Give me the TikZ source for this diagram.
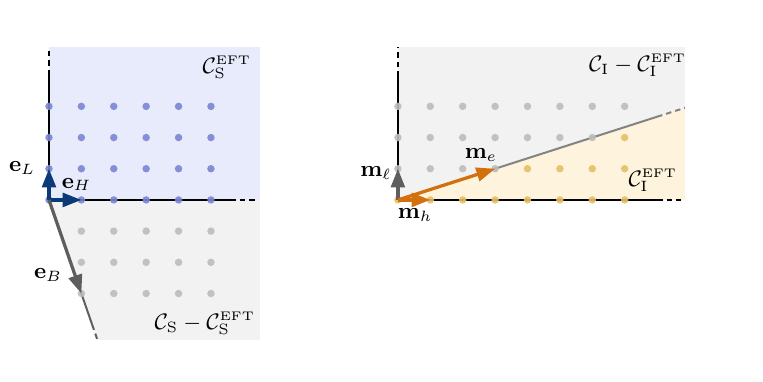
\documentclass[tikz,border=0pt]{standalone}
\usepackage{amsmath}
\usetikzlibrary{arrows.meta}
\definecolor{lavender}{HTML}{E7EBFC}
\definecolor{lavdot}{HTML}{7A86D2}
\definecolor{paper}{HTML}{F2F2F2}
\definecolor{greydot}{HTML}{BCBCBC}
\definecolor{cream}{HTML}{FEF3DC}
\definecolor{golddot}{HTML}{E6BE66}
\definecolor{navy}{HTML}{0B3A78}
\definecolor{slate}{HTML}{5E5E5E}
\definecolor{fence}{HTML}{838383}
\definecolor{amber}{HTML}{D2700F}
\tikzset{
  axisline/.style={line width=0.8pt, color=black},
  axisdash/.style={axisline, dash pattern=on 2.2pt off 1.6pt},
  coneline/.style={line width=0.8pt, color=#1},
  coneline/.default=fence,
  conedash/.style={coneline=#1, dash pattern=on 2.2pt off 1.6pt},
  conedash/.default=fence,
  vecarrow/.style={-{Triangle[length=7.5pt,width=5.5pt]}, line width=1.3pt, color=#1},
  vecarrow/.default=navy,
  latdot/.style={fill=#1, opacity=0.9},
  latdot/.default=lavdot,
  veclabel/.style={inner sep=1pt, font=\small},
  regionlabel/.style={inner sep=1pt, font=\small},
}
\newcommand{\dotrad}{1.5pt}
\begin{document}
\begin{tikzpicture}[x=0.457cm, y=0.44cm]
  \useasboundingbox (-1.512,-5.833) rectangle (22.04,6.41);
  \coordinate (O) at (0,0);
  \coordinate (eL) at (0,1);
  \coordinate (eH) at (1,0);
  \coordinate (eB) at (1,-3);
  \fill[lavender] (O) rectangle (6.51,4.9);
  \fill[paper] (O) -- (6.51,0) -- (6.51,-4.49) -- (1.497,-4.49) -- cycle;
  \draw[axisline] (O) -- (0,4.0);
  \draw[axisdash] (0,4.0) -- (0,4.9);
  \draw[axisline] (O) -- (5.6,0);
  \draw[axisdash] (5.6,0) -- (6.45,0);
  \draw[coneline=slate] (O) -- (1.333,-4);
  \draw[conedash=slate] (1.333,-4) -- (1.497,-4.49);
  \foreach \i in {0,...,5}
    \foreach \j in {0,...,3}
      \fill[latdot] (\i,\j) circle (\dotrad);
  \foreach \i in {1,...,5}
    \foreach \j in {1,...,3}
      \fill[latdot=greydot] (\i,-\j) circle (\dotrad);
  \draw[vecarrow] (O) -- (eL);
  \draw[vecarrow] (O) -- (eH);
  \draw[vecarrow=slate] (O) -- (eB);
  \node[veclabel] (lL) at (-0.83,1.03) {$\mathbf{e}_L$};
  \node[veclabel] (lH) at (0.85,0.5) {$\mathbf{e}_H$};
  \node[veclabel] (lB) at (-0.03,-2.4) {$\mathbf{e}_B$};
  \node[regionlabel] (sEFT) at (5.49,4.26) {$\mathcal{C}_{\mathrm{S}}^{\scriptscriptstyle\mathrm{EFT}}$};
  \node[regionlabel] (sRest) at (4.81,-3.94) {$\mathcal{C}_{\mathrm{S}}-\mathcal{C}_{\mathrm{S}}^{\scriptscriptstyle\mathrm{EFT}}$};
  \begin{scope}[xshift=10.77*0.457cm]
    \coordinate (P) at (0,0);
    \coordinate (ml) at (0,1);
    \coordinate (mh) at (1,0);
    \coordinate (me) at (3,1);
    \fill[paper] (P) rectangle (8.86,4.9);
    \fill[cream] (P) -- (8.86,0) -- (8.86,2.953) -- cycle;
    \draw[axisline] (P) -- (0,3.95);
    \draw[axisdash] (0,3.95) -- (0,4.9);
    \draw[axisline] (P) -- (8.0,0);
    \draw[axisdash] (8.0,0) -- (8.75,0);
    \draw[coneline] (P) -- (8.0,2.667);
    \draw[conedash] (8.0,2.667) -- (8.86,2.953);
    \foreach \i in {0,...,7}
      \foreach \j in {0,...,3} {
        \pgfmathtruncatemacro{\below}{(\j==0) || (3*\j<\i)}
        \ifnum\below=1
          \fill[latdot=golddot] (\i,\j) circle (\dotrad);
        \else
          \fill[latdot=greydot] (\i,\j) circle (\dotrad);
        \fi
      }
    \draw[vecarrow=slate] (P) -- (ml);
    \draw[vecarrow=amber] (P) -- (mh);
    \draw[vecarrow=amber] (P) -- (me);
    \node[veclabel] (lml) at (-0.68,0.87) {$\mathbf{m}_\ell$};
    \node[veclabel] (lmh) at (0.53,-0.48) {$\mathbf{m}_h$};
    \node[veclabel] (lme) at (2.56,1.44) {$\mathbf{m}_e$};
    \node[regionlabel] (iRest) at (7.4,4.33) {$\mathcal{C}_{\mathrm{I}}-\mathcal{C}_{\mathrm{I}}^{\scriptscriptstyle\mathrm{EFT}}$};
    \node[regionlabel] (iEFT) at (7.87,0.64) {$\mathcal{C}_{\mathrm{I}}^{\scriptscriptstyle\mathrm{EFT}}$};
  \end{scope}
\end{tikzpicture}
\end{document}
